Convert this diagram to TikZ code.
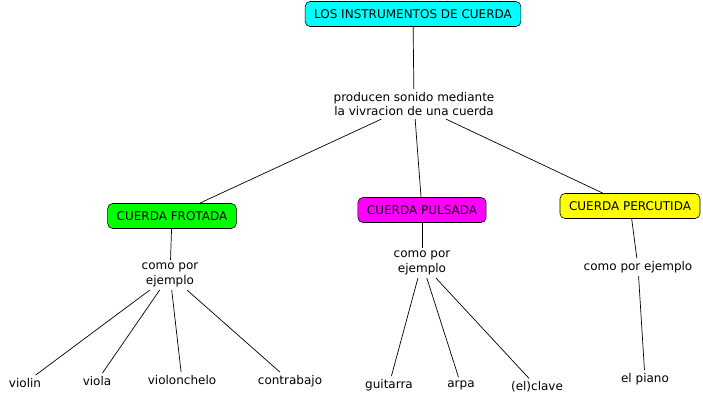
\documentclass[tikz,border=0pt]{standalone}
\usepackage{fontspec}
\setmainfont{DejaVu Sans}
\definecolor{cCyan}{RGB}{0,255,255}
\definecolor{cGreen}{RGB}{0,255,0}
\definecolor{cMagenta}{RGB}{255,0,255}
\definecolor{cYellow}{RGB}{255,255,0}
\begin{document}
\begin{tikzpicture}[x=1pt,y=-1pt,
  font=\fontsize{12}{14.5}\selectfont,
  concept/.style={draw=black, line width=0.6pt, rounded corners=5pt, inner xsep=9pt, inner ysep=0pt, minimum height=25pt},
  linktext/.style={align=center, inner sep=3pt},
  leaf/.style={inner sep=3pt},
  conn/.style={draw=black, line width=0.7pt}]
\useasboundingbox (0,0) rectangle (703,404);
\node[concept, fill=cCyan] (root) at (413,14) {LOS INSTRUMENTOS DE CUERDA};
\node[linktext] (prod) at (414,104) {producen sonido mediante\\la vivracion de una cuerda};
\node[concept, fill=cGreen] (frot) at (172,216) {CUERDA FROTADA};
\node[concept, fill=cMagenta] (puls) at (422,210) {CUERDA PULSADA};
\node[concept, fill=cYellow] (perc) at (630,206) {CUERDA PERCUTIDA};
\node[linktext] (ej1) at (170,275) {como por\\ejemplo};
\node[linktext] (ej2) at (422,263) {como por\\ejemplo};
\node[linktext] (ej3) at (638,267) {como por ejemplo};
\node[leaf] (violin) at (25,383) {violin};
\node[leaf] (viola) at (97,381) {viola};
\node[leaf] (vcello) at (182,380) {violonchelo};
\node[leaf] (cbajo) at (290,381) {contrabajo};
\node[leaf] (guit) at (389,385) {guitarra};
\node[leaf] (arpa) at (461,385) {arpa};
\node[leaf] (clave) at (537,387) {(el)clave};
\node[leaf] (piano) at (645,379) {el piano};
\draw[conn] (root) -- (prod);
\draw[conn] (prod) -- (frot);
\draw[conn] (prod) -- (puls);
\draw[conn] (prod) -- (perc);
\draw[conn] (frot) -- (ej1);
\draw[conn] (puls) -- (ej2);
\draw[conn] (perc) -- (ej3);
\draw[conn] (ej1) -- (violin);
\draw[conn] (ej1) -- (viola);
\draw[conn] (ej1) -- (vcello);
\draw[conn] (ej1) -- (cbajo);
\draw[conn] (ej2) -- (guit);
\draw[conn] (ej2) -- (arpa);
\draw[conn] (ej2) -- (clave);
\draw[conn] (ej3) -- (piano);
\end{tikzpicture}
\end{document}
